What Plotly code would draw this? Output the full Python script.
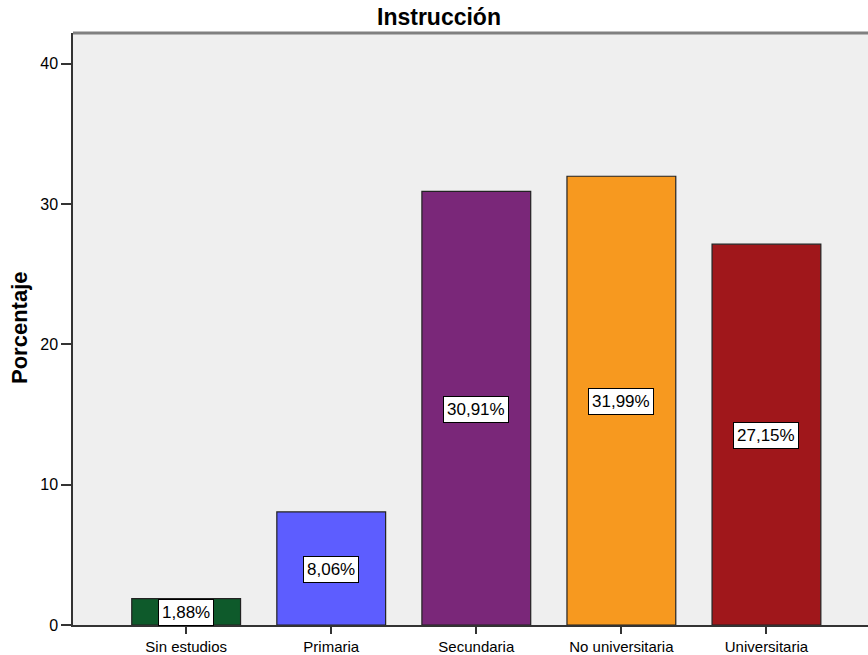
import plotly.graph_objects as go

categories = ["Sin estudios", "Primaria", "Secundaria", "No universitaria", "Universitaria"]
values = [1.88, 8.06, 30.91, 31.99, 27.15]
labels = ["1,88%", "8,06%", "30,91%", "31,99%", "27,15%"]
colors = ["#0e5a2b", "#5d5dff", "#7a2779", "#f7991f", "#a0171b"]

FONT = "Liberation Sans, Arial"

fig = go.Figure()
fig.add_trace(go.Bar(
    x=categories, y=values, width=0.75,
    marker=dict(color=colors, line=dict(color="#222222", width=1.2)),
    hoverinfo="skip", showlegend=False,
))

for c, v, t in zip(categories, values, labels):
    fig.add_annotation(
        x=c, y=v / 2, text=t, showarrow=False, yshift=-1,
        font=dict(family=FONT, size=17, color="black"),
        bgcolor="white", bordercolor="black", borderwidth=1, borderpad=3,
    )

L, T, B, R = 73, 33, 30, 0
W, H = 868, 655
pw = W - L - R

fig.add_annotation(
    x=(439 - L) / pw, y=1, xref="paper", yref="paper",
    xanchor="center", yanchor="bottom",
    yshift=1, text="<b>Instrucción</b>", showarrow=False,
    font=dict(family=FONT, size=23, color="black"),
)
fig.add_annotation(
    x=(19 - L) / pw, y=(625 - 328) / (625 - 33), xref="paper", yref="paper",
    xanchor="center", yanchor="middle",
    text="<b>Porcentaje</b>", textangle=-90, showarrow=False,
    font=dict(family=FONT, size=22, color="black"),
)

fig.add_shape(type="line", xref="paper", yref="paper", x0=0, x1=1, y0=1, y1=1,
              line=dict(color="#808080", width=3))

fig.update_layout(
    width=W, height=H,
    margin=dict(l=L, r=R, t=T, b=B, pad=0),
    paper_bgcolor="white", plot_bgcolor="#efefef",
    bargap=0.25,
    xaxis=dict(
        range=[-0.78, 4.70], showgrid=False, zeroline=False,
        showline=True, linecolor="#333333", linewidth=1.5,
        ticks="outside", ticklen=7, tickcolor="#333333", tickwidth=1.5,
        tickfont=dict(family=FONT, size=15, color="black"),
        fixedrange=True,
    ),
    yaxis=dict(
        range=[0, 42.2], tickvals=[0, 10, 20, 30, 40], showgrid=False, zeroline=False,
        showline=True, linecolor="#333333", linewidth=1.5,
        ticks="outside", ticklen=10, tickcolor="#333333", tickwidth=1.5,
        tickfont=dict(family=FONT, size=16, color="black"),
        fixedrange=True,
    ),
)

fig.write_html("out.html")
